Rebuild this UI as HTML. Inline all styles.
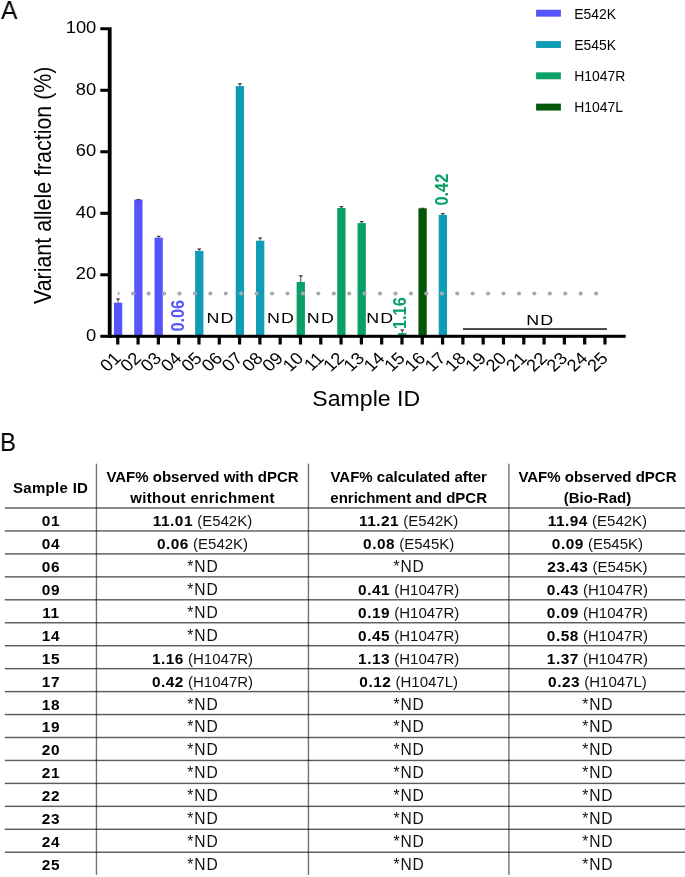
<!DOCTYPE html>
<html lang="en"><head><meta charset="utf-8"><title>Figure</title>
<style>
html,body{margin:0;padding:0;background:#fff}
body{width:685px;height:877px;position:relative;overflow:hidden;font-family:"Liberation Sans", sans-serif;color:#000}
.tbl{position:absolute;left:0;top:0;width:685px;height:877px;will-change:transform}
.pl{will-change:transform;position:absolute;font-size:26px;line-height:1;transform-origin:0 0;white-space:nowrap}
.c{position:absolute;text-align:center;font-size:15px;line-height:17px;height:17px;white-space:nowrap;color:#111}
.c b,.h{font-weight:bold;color:#000}
.c b{font-size:15.4px;letter-spacing:0.5px}
.id{font-size:15.4px;letter-spacing:0.7px;text-indent:0.7px}
.nd{font-size:15.6px;letter-spacing:0.9px;text-indent:0.9px}
.hl{position:absolute;left:4.8px;width:681px;height:1.5px;background:#6f6f6f}
.vl{position:absolute;top:463.7px;height:411.1px;width:1.4px;background:#777}
</style></head><body>
<svg class="chart" width="685" height="420" viewBox="0 0 685 420" style="position:absolute;left:0;top:0;will-change:transform" font-family='"Liberation Sans", sans-serif'>
<rect x="113.93" y="302.70" width="8.3" height="32.30" fill="#5655fb"/>
<path d="M118.08 302.70V298.60" stroke="#555" stroke-width="1.1" fill="none"/><path d="M115.78 298.40H120.38L118.98 299.90H117.18Z" fill="#3c3c3c"/>
<rect x="134.23" y="199.60" width="8.3" height="135.40" fill="#5655fb"/>
<path d="M138.38 199.60V199.10" stroke="#555" stroke-width="1.1" fill="none"/><path d="M136.08 198.90H140.68L139.28 200.40H137.48Z" fill="#3c3c3c"/>
<rect x="154.53" y="237.70" width="8.3" height="97.30" fill="#5655fb"/>
<path d="M158.68 237.70V235.90" stroke="#555" stroke-width="1.1" fill="none"/><path d="M156.38 235.70H160.98L159.58 237.20H157.78Z" fill="#3c3c3c"/>
<rect x="195.13" y="250.80" width="8.3" height="84.20" fill="#0f9cb6"/>
<path d="M199.28 250.80V248.70" stroke="#555" stroke-width="1.1" fill="none"/><path d="M196.98 248.50H201.58L200.18 250.00H198.38Z" fill="#3c3c3c"/>
<rect x="235.73" y="86.10" width="8.3" height="248.90" fill="#0f9cb6"/>
<path d="M239.88 86.10V83.50" stroke="#555" stroke-width="1.1" fill="none"/><path d="M237.58 83.30H242.18L240.78 84.80H238.98Z" fill="#3c3c3c"/>
<rect x="256.03" y="240.70" width="8.3" height="94.30" fill="#0f9cb6"/>
<path d="M260.18 240.70V237.80" stroke="#555" stroke-width="1.1" fill="none"/><path d="M257.88 237.60H262.48L261.08 239.10H259.28Z" fill="#3c3c3c"/>
<rect x="296.63" y="282.00" width="8.3" height="53.00" fill="#08a066"/>
<path d="M300.78 282.00V275.40" stroke="#555" stroke-width="1.1" fill="none"/><path d="M298.48 275.20H303.08L301.68 276.70H299.88Z" fill="#3c3c3c"/>
<rect x="337.23" y="208.00" width="8.3" height="127.00" fill="#08a066"/>
<path d="M341.38 208.00V206.30" stroke="#555" stroke-width="1.1" fill="none"/><path d="M339.08 206.10H343.68L342.28 207.60H340.48Z" fill="#3c3c3c"/>
<rect x="357.53" y="223.10" width="8.3" height="111.90" fill="#08a066"/>
<path d="M361.68 223.10V221.30" stroke="#555" stroke-width="1.1" fill="none"/><path d="M359.38 221.10H363.98L362.58 222.60H360.78Z" fill="#3c3c3c"/>
<rect x="398.13" y="333.10" width="8.3" height="1.90" fill="#08a066"/>
<path d="M402.28 333.10V329.80" stroke="#555" stroke-width="1.1" fill="none"/><path d="M399.98 329.60H404.58L403.18 331.10H401.38Z" fill="#3c3c3c"/>
<rect x="418.43" y="208.30" width="8.3" height="126.70" fill="#035708"/>
<path d="M422.58 208.30V207.90" stroke="#555" stroke-width="1.1" fill="none"/><path d="M420.28 207.70H424.88L423.48 209.20H421.68Z" fill="#3c3c3c"/>
<rect x="438.73" y="214.90" width="8.3" height="120.10" fill="#0f9cb6"/>
<path d="M442.88 214.90V213.30" stroke="#555" stroke-width="1.1" fill="none"/><path d="M440.58 213.10H445.18L443.78 214.60H441.98Z" fill="#3c3c3c"/>
<path d="M117.7 291.1L120.5 293.4L117.7 295.7Z" fill="#b6b6b8"/>
<circle cx="133.20" cy="293.5" r="2.1" fill="#a9a9ad"/>
<circle cx="148.63" cy="293.5" r="2.1" fill="#a9a9ad"/>
<circle cx="164.06" cy="293.5" r="2.1" fill="#a9a9ad"/>
<circle cx="179.49" cy="293.5" r="2.1" fill="#a9a9ad"/>
<circle cx="194.92" cy="293.5" r="2.1" fill="#a9a9ad"/>
<circle cx="210.35" cy="293.5" r="2.1" fill="#a9a9ad"/>
<circle cx="225.78" cy="293.5" r="2.1" fill="#a9a9ad"/>
<circle cx="241.21" cy="293.5" r="2.1" fill="#a9a9ad"/>
<circle cx="256.64" cy="293.5" r="2.1" fill="#a9a9ad"/>
<circle cx="272.07" cy="293.5" r="2.1" fill="#a9a9ad"/>
<circle cx="287.50" cy="293.5" r="2.1" fill="#a9a9ad"/>
<circle cx="302.93" cy="293.5" r="2.1" fill="#a9a9ad"/>
<circle cx="318.36" cy="293.5" r="2.1" fill="#a9a9ad"/>
<circle cx="333.79" cy="293.5" r="2.1" fill="#a9a9ad"/>
<circle cx="349.22" cy="293.5" r="2.1" fill="#a9a9ad"/>
<circle cx="364.65" cy="293.5" r="2.1" fill="#a9a9ad"/>
<circle cx="380.08" cy="293.5" r="2.1" fill="#a9a9ad"/>
<circle cx="395.51" cy="293.5" r="2.1" fill="#a9a9ad"/>
<circle cx="410.94" cy="293.5" r="2.1" fill="#a9a9ad"/>
<circle cx="426.37" cy="293.5" r="2.1" fill="#a9a9ad"/>
<circle cx="441.80" cy="293.5" r="2.1" fill="#a9a9ad"/>
<circle cx="457.23" cy="293.5" r="2.1" fill="#a9a9ad"/>
<circle cx="472.66" cy="293.5" r="2.1" fill="#a9a9ad"/>
<circle cx="488.09" cy="293.5" r="2.1" fill="#a9a9ad"/>
<circle cx="503.52" cy="293.5" r="2.1" fill="#a9a9ad"/>
<circle cx="518.95" cy="293.5" r="2.1" fill="#a9a9ad"/>
<circle cx="534.38" cy="293.5" r="2.1" fill="#a9a9ad"/>
<circle cx="549.81" cy="293.5" r="2.1" fill="#a9a9ad"/>
<circle cx="565.24" cy="293.5" r="2.1" fill="#a9a9ad"/>
<circle cx="580.67" cy="293.5" r="2.1" fill="#a9a9ad"/>
<circle cx="596.10" cy="293.5" r="2.1" fill="#a9a9ad"/>
<rect x="107.8" y="27.3" width="3.8" height="310.5" fill="#000"/>
<rect x="100.3" y="334.8" width="525.4" height="3.0" fill="#000"/>
<rect x="100.3" y="273.29" width="8" height="3.0" fill="#000"/>
<rect x="100.3" y="211.78" width="8" height="3.0" fill="#000"/>
<rect x="100.3" y="150.27" width="8" height="3.0" fill="#000"/>
<rect x="100.3" y="88.76" width="8" height="3.0" fill="#000"/>
<rect x="100.3" y="27.25" width="8" height="3.0" fill="#000"/>
<rect x="116.18" y="336" width="3.2" height="8.5" fill="#000"/>
<rect x="136.48" y="336" width="3.2" height="8.5" fill="#000"/>
<rect x="156.78" y="336" width="3.2" height="8.5" fill="#000"/>
<rect x="177.08" y="336" width="3.2" height="8.5" fill="#000"/>
<rect x="197.38" y="336" width="3.2" height="8.5" fill="#000"/>
<rect x="217.68" y="336" width="3.2" height="8.5" fill="#000"/>
<rect x="237.98" y="336" width="3.2" height="8.5" fill="#000"/>
<rect x="258.28" y="336" width="3.2" height="8.5" fill="#000"/>
<rect x="278.58" y="336" width="3.2" height="8.5" fill="#000"/>
<rect x="298.88" y="336" width="3.2" height="8.5" fill="#000"/>
<rect x="319.18" y="336" width="3.2" height="8.5" fill="#000"/>
<rect x="339.48" y="336" width="3.2" height="8.5" fill="#000"/>
<rect x="359.78" y="336" width="3.2" height="8.5" fill="#000"/>
<rect x="380.08" y="336" width="3.2" height="8.5" fill="#000"/>
<rect x="400.38" y="336" width="3.2" height="8.5" fill="#000"/>
<rect x="420.68" y="336" width="3.2" height="8.5" fill="#000"/>
<rect x="440.98" y="336" width="3.2" height="8.5" fill="#000"/>
<rect x="461.28" y="336" width="3.2" height="8.5" fill="#000"/>
<rect x="481.58" y="336" width="3.2" height="8.5" fill="#000"/>
<rect x="501.88" y="336" width="3.2" height="8.5" fill="#000"/>
<rect x="522.18" y="336" width="3.2" height="8.5" fill="#000"/>
<rect x="542.48" y="336" width="3.2" height="8.5" fill="#000"/>
<rect x="562.78" y="336" width="3.2" height="8.5" fill="#000"/>
<rect x="583.08" y="336" width="3.2" height="8.5" fill="#000"/>
<rect x="603.38" y="336" width="3.2" height="8.5" fill="#000"/>
<text transform="translate(96.3 341.00) scale(1.08 1)" font-size="17" text-anchor="end">0</text>
<text transform="translate(96.3 279.49) scale(1.08 1)" font-size="17" text-anchor="end">20</text>
<text transform="translate(96.3 217.98) scale(1.08 1)" font-size="17" text-anchor="end">40</text>
<text transform="translate(96.3 156.47) scale(1.08 1)" font-size="17" text-anchor="end">60</text>
<text transform="translate(96.3 94.96) scale(1.08 1)" font-size="17" text-anchor="end">80</text>
<text transform="translate(96.3 33.45) scale(1.08 1)" font-size="17" text-anchor="end">100</text>
<text transform="translate(121.88 359.2) scale(1.08 1) rotate(-45)" font-size="17" text-anchor="end">01</text>
<text transform="translate(142.18 359.2) scale(1.08 1) rotate(-45)" font-size="17" text-anchor="end">02</text>
<text transform="translate(162.48 359.2) scale(1.08 1) rotate(-45)" font-size="17" text-anchor="end">03</text>
<text transform="translate(182.78 359.2) scale(1.08 1) rotate(-45)" font-size="17" text-anchor="end">04</text>
<text transform="translate(203.08 359.2) scale(1.08 1) rotate(-45)" font-size="17" text-anchor="end">05</text>
<text transform="translate(223.38 359.2) scale(1.08 1) rotate(-45)" font-size="17" text-anchor="end">06</text>
<text transform="translate(243.68 359.2) scale(1.08 1) rotate(-45)" font-size="17" text-anchor="end">07</text>
<text transform="translate(263.98 359.2) scale(1.08 1) rotate(-45)" font-size="17" text-anchor="end">08</text>
<text transform="translate(284.28 359.2) scale(1.08 1) rotate(-45)" font-size="17" text-anchor="end">09</text>
<text transform="translate(304.58 359.2) scale(1.08 1) rotate(-45)" font-size="17" text-anchor="end">10</text>
<text transform="translate(324.88 359.2) scale(1.08 1) rotate(-45)" font-size="17" text-anchor="end">11</text>
<text transform="translate(345.18 359.2) scale(1.08 1) rotate(-45)" font-size="17" text-anchor="end">12</text>
<text transform="translate(365.48 359.2) scale(1.08 1) rotate(-45)" font-size="17" text-anchor="end">13</text>
<text transform="translate(385.78 359.2) scale(1.08 1) rotate(-45)" font-size="17" text-anchor="end">14</text>
<text transform="translate(406.08 359.2) scale(1.08 1) rotate(-45)" font-size="17" text-anchor="end">15</text>
<text transform="translate(426.38 359.2) scale(1.08 1) rotate(-45)" font-size="17" text-anchor="end">16</text>
<text transform="translate(446.68 359.2) scale(1.08 1) rotate(-45)" font-size="17" text-anchor="end">17</text>
<text transform="translate(466.98 359.2) scale(1.08 1) rotate(-45)" font-size="17" text-anchor="end">18</text>
<text transform="translate(487.28 359.2) scale(1.08 1) rotate(-45)" font-size="17" text-anchor="end">19</text>
<text transform="translate(507.58 359.2) scale(1.08 1) rotate(-45)" font-size="17" text-anchor="end">20</text>
<text transform="translate(527.88 359.2) scale(1.08 1) rotate(-45)" font-size="17" text-anchor="end">21</text>
<text transform="translate(548.18 359.2) scale(1.08 1) rotate(-45)" font-size="17" text-anchor="end">22</text>
<text transform="translate(568.48 359.2) scale(1.08 1) rotate(-45)" font-size="17" text-anchor="end">23</text>
<text transform="translate(588.78 359.2) scale(1.08 1) rotate(-45)" font-size="17" text-anchor="end">24</text>
<text transform="translate(609.08 359.2) scale(1.08 1) rotate(-45)" font-size="17" text-anchor="end">25</text>
<text transform="translate(366.2 405.8) scale(1.08 1)" font-size="21.4" text-anchor="middle">Sample ID</text>
<text transform="translate(50.9 185.3) scale(1.08 1) rotate(-90)" font-size="21.4" text-anchor="middle">Variant allele fraction (%)</text>
<text transform="translate(220.60 323.3) scale(1.16 1)" font-size="15.4" letter-spacing="1" text-anchor="middle">ND</text>
<text transform="translate(281.00 323.3) scale(1.16 1)" font-size="15.4" letter-spacing="1" text-anchor="middle">ND</text>
<text transform="translate(320.90 323.3) scale(1.16 1)" font-size="15.4" letter-spacing="1" text-anchor="middle">ND</text>
<text transform="translate(380.20 323.3) scale(1.16 1)" font-size="15.4" letter-spacing="1" text-anchor="middle">ND</text>
<text transform="translate(540.2 325.3) scale(1.16 1)" font-size="15.4" letter-spacing="1" text-anchor="middle">ND</text>
<rect x="463" y="328.3" width="143.9" height="1.5" fill="#111"/>
<text transform="translate(184.0 331.6) scale(1.08 1) rotate(-90)" font-size="16.3" font-weight="bold" fill="#5655fb">0.06</text>
<text transform="translate(405.9 329.0) scale(1.08 1) rotate(-90)" font-size="16.3" font-weight="bold" fill="#08a066">1.16</text>
<text transform="translate(448.0 205.5) scale(1.12 1) rotate(-90)" font-size="16.3" font-weight="bold" fill="#08a066">0.42</text>
<rect x="536.1" y="9.75" width="24.8" height="6.9" fill="#5655fb"/>
<text transform="translate(574.3 18.55) scale(0.91 1)" font-size="15.3">E542K</text>
<rect x="536.1" y="41.05" width="24.8" height="6.9" fill="#0f9cb6"/>
<text transform="translate(574.3 49.78) scale(0.91 1)" font-size="15.3">E545K</text>
<rect x="536.1" y="72.35" width="24.8" height="6.9" fill="#08a066"/>
<text transform="translate(574.3 81.01) scale(0.91 1)" font-size="15.3">H1047R</text>
<rect x="536.1" y="103.65" width="24.8" height="6.9" fill="#035708"/>
<text transform="translate(574.3 112.24) scale(0.91 1)" font-size="15.3">H1047L</text>
</svg>
<div class="pl" style="left:0.9px;top:-2.7px;transform:scaleX(0.95)">A</div>
<div class="pl" style="left:0.2px;top:428.5px;transform:scaleX(0.92)">B</div>
<div class="tbl">
<div class="c h" style="left:4.8px;width:91.7px;top:478.6px;letter-spacing:0.3px">Sample ID</div>
<div class="c h" style="left:96.5px;width:212.0px;top:468.4px">VAF% observed with dPCR</div>
<div class="c h" style="left:96.5px;width:212.0px;top:488.8px;letter-spacing:0.35px">without enrichment</div>
<div class="c h" style="left:308.5px;width:200.4px;top:468.4px">VAF% calculated after</div>
<div class="c h" style="left:308.5px;width:200.4px;top:488.8px">enrichment and dPCR</div>
<div class="c h" style="left:508.9px;width:177.1px;top:468.4px">VAF% observed dPCR</div>
<div class="c h" style="left:508.9px;width:177.1px;top:488.8px">(Bio-Rad)</div>
<div class="c h id" style="left:4.8px;width:91.7px;top:511.90px">01</div>
<div class="c" style="left:96.5px;width:212.0px;top:511.90px"><b>11.01</b> (E542K)</div>
<div class="c" style="left:308.5px;width:200.4px;top:511.90px"><b>11.21</b> (E542K)</div>
<div class="c" style="left:508.9px;width:177.1px;top:511.90px"><b>11.94</b> (E542K)</div>
<div class="c h id" style="left:4.8px;width:91.7px;top:534.85px">04</div>
<div class="c" style="left:96.5px;width:212.0px;top:534.85px"><b>0.06</b> (E542K)</div>
<div class="c" style="left:308.5px;width:200.4px;top:534.85px"><b>0.08</b> (E545K)</div>
<div class="c" style="left:508.9px;width:177.1px;top:534.85px"><b>0.09</b> (E545K)</div>
<div class="c h id" style="left:4.8px;width:91.7px;top:557.80px">06</div>
<div class="c nd" style="left:96.5px;width:212.0px;top:557.80px">*ND</div>
<div class="c nd" style="left:308.5px;width:200.4px;top:557.80px">*ND</div>
<div class="c" style="left:508.9px;width:177.1px;top:557.80px"><b>23.43</b> (E545K)</div>
<div class="c h id" style="left:4.8px;width:91.7px;top:580.75px">09</div>
<div class="c nd" style="left:96.5px;width:212.0px;top:580.75px">*ND</div>
<div class="c" style="left:308.5px;width:200.4px;top:580.75px"><b>0.41</b> (H1047R)</div>
<div class="c" style="left:508.9px;width:177.1px;top:580.75px"><b>0.43</b> (H1047R)</div>
<div class="c h id" style="left:4.8px;width:91.7px;top:603.70px">11</div>
<div class="c nd" style="left:96.5px;width:212.0px;top:603.70px">*ND</div>
<div class="c" style="left:308.5px;width:200.4px;top:603.70px"><b>0.19</b> (H1047R)</div>
<div class="c" style="left:508.9px;width:177.1px;top:603.70px"><b>0.09</b> (H1047R)</div>
<div class="c h id" style="left:4.8px;width:91.7px;top:626.65px">14</div>
<div class="c nd" style="left:96.5px;width:212.0px;top:626.65px">*ND</div>
<div class="c" style="left:308.5px;width:200.4px;top:626.65px"><b>0.45</b> (H1047R)</div>
<div class="c" style="left:508.9px;width:177.1px;top:626.65px"><b>0.58</b> (H1047R)</div>
<div class="c h id" style="left:4.8px;width:91.7px;top:649.60px">15</div>
<div class="c" style="left:96.5px;width:212.0px;top:649.60px"><b>1.16</b> (H1047R)</div>
<div class="c" style="left:308.5px;width:200.4px;top:649.60px"><b>1.13</b> (H1047R)</div>
<div class="c" style="left:508.9px;width:177.1px;top:649.60px"><b>1.37</b> (H1047R)</div>
<div class="c h id" style="left:4.8px;width:91.7px;top:672.55px">17</div>
<div class="c" style="left:96.5px;width:212.0px;top:672.55px"><b>0.42</b> (H1047R)</div>
<div class="c" style="left:308.5px;width:200.4px;top:672.55px"><b>0.12</b> (H1047L)</div>
<div class="c" style="left:508.9px;width:177.1px;top:672.55px"><b>0.23</b> (H1047L)</div>
<div class="c h id" style="left:4.8px;width:91.7px;top:695.50px">18</div>
<div class="c nd" style="left:96.5px;width:212.0px;top:695.50px">*ND</div>
<div class="c nd" style="left:308.5px;width:200.4px;top:695.50px">*ND</div>
<div class="c nd" style="left:508.9px;width:177.1px;top:695.50px">*ND</div>
<div class="c h id" style="left:4.8px;width:91.7px;top:718.45px">19</div>
<div class="c nd" style="left:96.5px;width:212.0px;top:718.45px">*ND</div>
<div class="c nd" style="left:308.5px;width:200.4px;top:718.45px">*ND</div>
<div class="c nd" style="left:508.9px;width:177.1px;top:718.45px">*ND</div>
<div class="c h id" style="left:4.8px;width:91.7px;top:741.40px">20</div>
<div class="c nd" style="left:96.5px;width:212.0px;top:741.40px">*ND</div>
<div class="c nd" style="left:308.5px;width:200.4px;top:741.40px">*ND</div>
<div class="c nd" style="left:508.9px;width:177.1px;top:741.40px">*ND</div>
<div class="c h id" style="left:4.8px;width:91.7px;top:764.35px">21</div>
<div class="c nd" style="left:96.5px;width:212.0px;top:764.35px">*ND</div>
<div class="c nd" style="left:308.5px;width:200.4px;top:764.35px">*ND</div>
<div class="c nd" style="left:508.9px;width:177.1px;top:764.35px">*ND</div>
<div class="c h id" style="left:4.8px;width:91.7px;top:787.30px">22</div>
<div class="c nd" style="left:96.5px;width:212.0px;top:787.30px">*ND</div>
<div class="c nd" style="left:308.5px;width:200.4px;top:787.30px">*ND</div>
<div class="c nd" style="left:508.9px;width:177.1px;top:787.30px">*ND</div>
<div class="c h id" style="left:4.8px;width:91.7px;top:810.25px">23</div>
<div class="c nd" style="left:96.5px;width:212.0px;top:810.25px">*ND</div>
<div class="c nd" style="left:308.5px;width:200.4px;top:810.25px">*ND</div>
<div class="c nd" style="left:508.9px;width:177.1px;top:810.25px">*ND</div>
<div class="c h id" style="left:4.8px;width:91.7px;top:833.20px">24</div>
<div class="c nd" style="left:96.5px;width:212.0px;top:833.20px">*ND</div>
<div class="c nd" style="left:308.5px;width:200.4px;top:833.20px">*ND</div>
<div class="c nd" style="left:508.9px;width:177.1px;top:833.20px">*ND</div>
<div class="c h id" style="left:4.8px;width:91.7px;top:856.15px">25</div>
<div class="c nd" style="left:96.5px;width:212.0px;top:856.15px">*ND</div>
<div class="c nd" style="left:308.5px;width:200.4px;top:856.15px">*ND</div>
<div class="c nd" style="left:508.9px;width:177.1px;top:856.15px">*ND</div>
</div>
<svg class="grid" width="685" height="877" viewBox="0 0 685 877" style="position:absolute;left:0;top:0;will-change:transform">
<rect x="95.75" y="463.7" width="1.4" height="411.1" fill="#000" fill-opacity="0.55"/>
<rect x="307.75" y="463.7" width="1.4" height="411.1" fill="#000" fill-opacity="0.55"/>
<rect x="508.20" y="463.7" width="1.4" height="411.1" fill="#000" fill-opacity="0.55"/>
<rect x="4.8" y="507.28" width="681" height="1.44" fill="#000" fill-opacity="0.64"/>
<rect x="4.8" y="530.23" width="681" height="1.44" fill="#000" fill-opacity="0.64"/>
<rect x="4.8" y="553.18" width="681" height="1.44" fill="#000" fill-opacity="0.64"/>
<rect x="4.8" y="576.13" width="681" height="1.44" fill="#000" fill-opacity="0.64"/>
<rect x="4.8" y="599.08" width="681" height="1.44" fill="#000" fill-opacity="0.64"/>
<rect x="4.8" y="622.03" width="681" height="1.44" fill="#000" fill-opacity="0.64"/>
<rect x="4.8" y="644.98" width="681" height="1.44" fill="#000" fill-opacity="0.64"/>
<rect x="4.8" y="667.93" width="681" height="1.44" fill="#000" fill-opacity="0.64"/>
<rect x="4.8" y="690.88" width="681" height="1.44" fill="#000" fill-opacity="0.64"/>
<rect x="4.8" y="713.83" width="681" height="1.44" fill="#000" fill-opacity="0.64"/>
<rect x="4.8" y="736.78" width="681" height="1.44" fill="#000" fill-opacity="0.64"/>
<rect x="4.8" y="759.73" width="681" height="1.44" fill="#000" fill-opacity="0.64"/>
<rect x="4.8" y="782.68" width="681" height="1.44" fill="#000" fill-opacity="0.64"/>
<rect x="4.8" y="805.63" width="681" height="1.44" fill="#000" fill-opacity="0.64"/>
<rect x="4.8" y="828.58" width="681" height="1.44" fill="#000" fill-opacity="0.64"/>
<rect x="4.8" y="851.53" width="681" height="1.44" fill="#000" fill-opacity="0.64"/>
</svg>
</body></html>
